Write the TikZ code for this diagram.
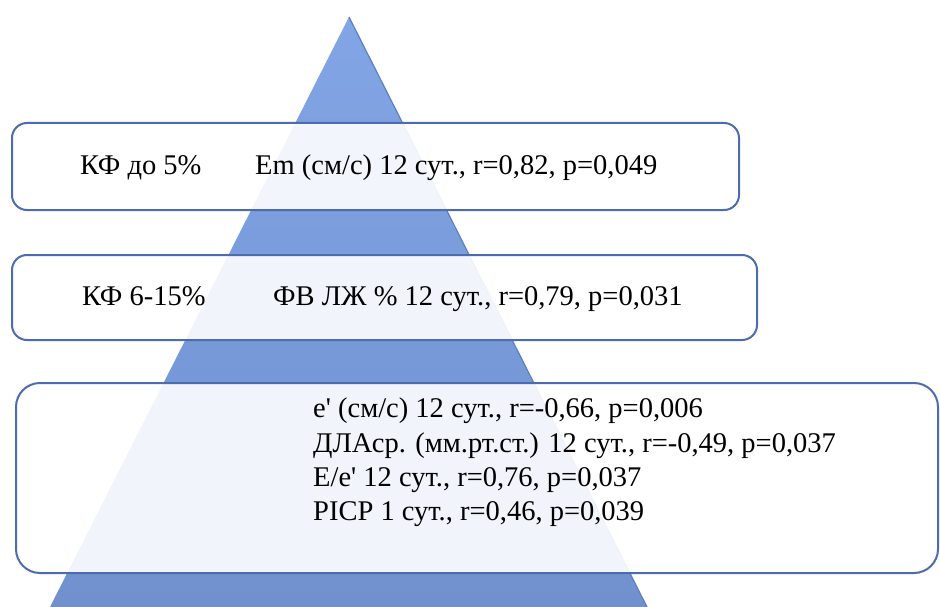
\documentclass[tikz,border=0pt]{standalone}
\usepackage{fontspec}
\setmainfont{Liberation Serif}
\newfontfamily\serifru{Liberation Serif}
\usepackage{tikz}
\usetikzlibrary{positioning,calc}
\definecolor{Edge}{HTML}{4D6CB0}
\definecolor{Top}{HTML}{82A5E5}
\definecolor{Base}{HTML}{7090CE}
\definecolor{Rim}{HTML}{5E7EC2}
\tikzset{
 tier/.style={draw=Edge,line width=2pt,fill=white,fill opacity=0.9,
   rounded corners=15pt,inner sep=0pt},
 txt/.style={anchor=base west,inner sep=0pt,text=black,
   font=\serifru\fontsize{28.5}{34}\selectfont}
}

\begin{document}
\begin{tikzpicture}[x=1pt,y=-1pt]
\useasboundingbox[fill=white] (0,0) rectangle (940,607);
\coordinate (apex) at (349,17);
\coordinate (bl) at (50,607);
\coordinate (br) at (647,607);
% pyramid
\shade[top color=Top,bottom color=Base] (apex)--(bl)--(br)--cycle;
\draw[Rim,line width=1.2pt] (apex)--(br);
\node[tier,minimum width=727pt,minimum height=87pt] (t1) at (375.5,166.5) {};
\node[tier,minimum width=745pt,minimum height=85pt] (t2) at (384.5,297.5) {};
\node[tier,rounded corners=24pt,minimum width=922pt,minimum height=190pt] (t3) at (477,478) {};
\node[txt] (a1) at (80,175) {КФ до 5\%};
\node[txt] (b1) at (255,175) {Em (см/с) 12 сут., r=0,82, p=0,049};
\node[txt] (a2) at (82,305) {КФ 6-15\%};
\node[txt] (b2) at (273,305) {ФВ ЛЖ \% 12 сут., r=0,79, p=0,031};
\node[txt] (c1) at (313,417) {e\textquotesingle\ (см/с) 12 сут., r=-0,66, p=0,006};
\node[txt] (c2) at (313,452) {ДЛАср. (мм.рт.ст.) 12 сут., r=-0,49, p=0,037};
\node[txt] (c3) at (313,486) {E/e\textquotesingle\ 12 сут., r=0,76, p=0,037};
\node[txt] (c4) at (313,520) {PICP 1 сут., r=0,46, p=0,039};
\end{tikzpicture}
\end{document}
